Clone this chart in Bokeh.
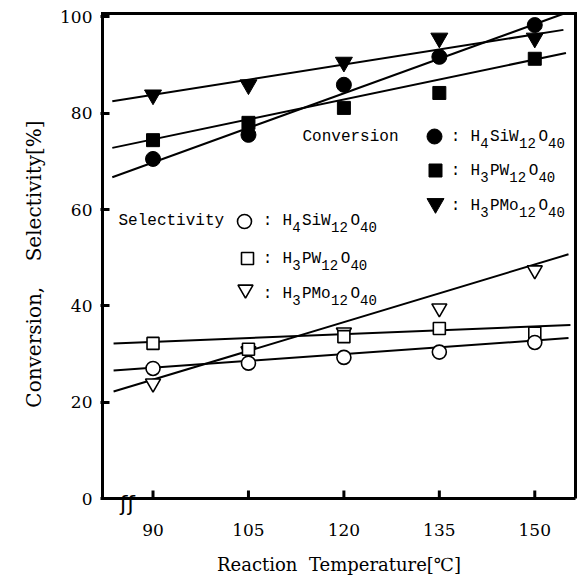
from bokeh.plotting import figure
from bokeh.models import Range1d, FixedTicker
from bokeh.core.properties import value
from bokeh.embed import file_html
from bokeh.resources import INLINE

# ---- data ----
temps = [90, 105, 120, 135, 150]
x_ticks = [90, 105, 120, 135, 150]
y_ticks = [0, 20, 40, 60, 80, 100]

conv_siw = [70.5, 75.5, 85.9, 91.7, 98.3]
conv_pw = [74.4, 78.0, 81.1, 84.2, 91.3]
conv_pmo = [83.8, 85.9, 90.6, 95.6, 95.6]

sel_siw = [27.0, 28.1, 29.3, 30.4, 32.4]
sel_pw = [32.2, 31.0, 33.6, 35.3, 34.3]
sel_pmo = [23.9, 30.6, 34.5, 39.5, 47.4]

# straight fitted lines (end points)
fit_conv_siw_x = [83.6, 154.4]
fit_conv_siw_y = [66.7, 100.6]
fit_conv_pw_x = [83.6, 154.9]
fit_conv_pw_y = [72.8, 92.5]
fit_conv_pmo_x = [83.6, 154.5]
fit_conv_pmo_y = [82.5, 97.3]
fit_sel_siw_x = [83.8, 155.3]
fit_sel_siw_y = [26.6, 33.3]
fit_sel_pw_x = [83.8, 155.6]
fit_sel_pw_y = [32.2, 36.0]
fit_sel_pmo_x = [83.8, 155.3]
fit_sel_pmo_y = [22.2, 50.7]

# axis box (data units) and frame padding around it
AX0, AX1 = 82.06, 156.4
AY0, AY1 = 0.0, 100.7
PXU = 473.0 / (AX1 - AX0)      # px per x unit
PYU = 485.0 / (AY1 - AY0)      # px per y unit
X0, X1 = AX0 - 2 / PXU, AX1 + 2 / PXU
Y0, Y1 = AY0 - 18 / PYU, AY1 + 2 / PYU

p = figure(width=579, height=582, output_backend="svg", toolbar_location=None,
           x_range=Range1d(X0, X1), y_range=Range1d(Y0, Y1),
           min_border_left=100, min_border_right=2, min_border_top=11,
           min_border_bottom=66)
p.grid.visible = False
p.outline_line_color = None
p.background_fill_color = "white"
p.border_fill_color = "white"

SERIF = "DejaVu Serif"
for ax in (p.xaxis[0], p.yaxis[0]):
    ax.axis_line_color = None
    ax.minor_tick_line_color = None
    ax.major_label_text_font = SERIF
    ax.major_label_text_font_size = "17px"
    ax.major_label_text_color = "black"
    ax.axis_label_text_font = SERIF
    ax.axis_label_text_font_style = "normal"
    ax.axis_label_text_color = "black"

p.xaxis.major_tick_line_color = None
p.xaxis.major_tick_in = 0
p.xaxis.major_tick_out = 0
p.yaxis.major_tick_in = 9
p.yaxis.major_tick_out = 0
p.yaxis.major_tick_line_width = 3
p.xaxis.axis_label_text_font_size = "18px"
p.yaxis.axis_label_text_font_size = "20px"
p.xaxis.ticker = FixedTicker(ticks=x_ticks)
p.yaxis.ticker = FixedTicker(ticks=y_ticks)
p.xaxis.major_label_standoff = 7
p.yaxis.major_label_standoff = 8
p.xaxis.axis_label = "Reaction\u00a0\u00a0Temperature[℃]"
p.yaxis.axis_label = "Conversion,\u00a0\u00a0\u00a0\u00a0Selectivity[%]"
p.xaxis.axis_label_standoff = 15
p.yaxis.axis_label_standoff = 11

# axis box drawn at the data origin
p.line([AX1, AX0, AX0, AX1, AX1], [AY0, AY0, AY1, AY1, AY0], line_color="black",
       line_width=3, line_join="miter")
# x ticks pointing inward
p.segment(x0=x_ticks, y0=[AY0] * len(x_ticks), x1=x_ticks, y1=[AY0 + 8 / PYU] * len(x_ticks),
          line_color="black", line_width=3)
# axis break mark
p.text([AX0 + 25 / PXU], [AY0], text=["ʃʃ"], text_font=value("DejaVu Sans"),
       text_font_size="22px", text_align="center", text_baseline="middle",
       y_offset=5, text_color="black")

# fitted lines
for fx, fy in [(fit_conv_siw_x, fit_conv_siw_y), (fit_conv_pw_x, fit_conv_pw_y),
               (fit_conv_pmo_x, fit_conv_pmo_y), (fit_sel_siw_x, fit_sel_siw_y),
               (fit_sel_pw_x, fit_sel_pw_y), (fit_sel_pmo_x, fit_sel_pmo_y)]:
    p.line(fx, fy, line_color="black", line_width=2)

# markers
p.scatter(temps, conv_pmo, marker="inverted_triangle", size=17, fill_color="black", line_color="black")
p.scatter(temps, conv_pw, marker="square", size=13, fill_color="black", line_color="black")
p.scatter(temps, conv_siw, marker="circle", size=15, fill_color="black", line_color="black")

p.scatter(temps, sel_pmo, marker="inverted_triangle", size=15, fill_color="white", line_color="black", line_width=1.6)
p.scatter(temps, sel_pw, marker="square", size=12, fill_color="white", line_color="black", line_width=1.6)
p.scatter(temps, sel_siw, marker="circle", size=14, fill_color="white", line_color="black", line_width=1.6)

# ---- legend (page pixel layout converted to data units) ----
FL, FB = 102.0, 498.0
def px2x(px):
    return AX0 + (px - FL) / PXU
def py2y(py):
    return AY0 + (FB - py) / PYU

MONO = "Liberation Mono"
ADV = 9.7

def formula(px, py, parts):
    mx, my, mt, mo = [], [], [], []
    sx, sy, st, so = [], [], [], []
    cell = 0
    for s, sub in parts:
        if sub:
            sx.append(px2x(px)); sy.append(py2y(py)); st.append(s); so.append(cell * ADV)
        else:
            mx.append(px2x(px)); my.append(py2y(py)); mt.append(s); mo.append(cell * ADV)
        cell += len(s)
    p.text(mx, my, text=mt, x_offset=mo, y_offset=0, text_font=value(MONO),
           text_font_size="16px", text_baseline="middle", text_align="left", text_color="black")
    p.text(sx, sy, text=st, x_offset=so, y_offset=6, text_font=value(MONO),
           text_font_size="14px", text_baseline="middle", text_align="left", text_color="black")

SIW = [("H", 0), ("4", 1), ("SiW", 0), ("12", 1), ("O", 0), ("40", 1)]
PW = [("H", 0), ("3", 1), ("PW", 0), ("12", 1), ("O", 0), ("40", 1)]
PMO = [("H", 0), ("3", 1), ("PMo", 0), ("12", 1), ("O", 0), ("40", 1)]

# Conversion block
p.text([px2x(302)], [py2y(136)], text=["Conversion"], text_font=value(MONO),
       text_font_size="16px", text_baseline="middle", text_color="black")
conv_rows = [136, 170, 205]
p.scatter([px2x(434)], [py2y(136)], marker="circle", size=15, fill_color="black", line_color="black")
p.scatter([px2x(435)], [py2y(170)], marker="square", size=13, fill_color="black", line_color="black")
p.scatter([px2x(435)], [py2y(203)], marker="inverted_triangle", size=17, fill_color="black", line_color="black")
for r, f in zip(conv_rows, [SIW, PW, PMO]):
    p.text([px2x(455)], [py2y(r)], text=[":"], text_font=value(MONO),
           text_font_size="16px", text_baseline="middle", text_align="center", text_color="black")
    formula(470, r, f)

# Selectivity block
p.text([px2x(118)], [py2y(220)], text=["Selectivity"], text_font=value(MONO),
       text_font_size="16px", text_baseline="middle", text_color="black")
sel_rows = [220, 258, 293]
p.scatter([px2x(244)], [py2y(221)], marker="circle", size=14, fill_color="white", line_color="black", line_width=1.6)
p.scatter([px2x(247)], [py2y(258)], marker="square", size=12, fill_color="white", line_color="black", line_width=1.6)
p.scatter([px2x(245)], [py2y(289)], marker="inverted_triangle", size=15, fill_color="white", line_color="black", line_width=1.6)
for r, f in zip(sel_rows, [SIW, PW, PMO]):
    p.text([px2x(267)], [py2y(r)], text=[":"], text_font=value(MONO),
           text_font_size="16px", text_baseline="middle", text_align="center", text_color="black")
    formula(282, r, f)

open("out.html", "w").write(file_html(p, INLINE))
